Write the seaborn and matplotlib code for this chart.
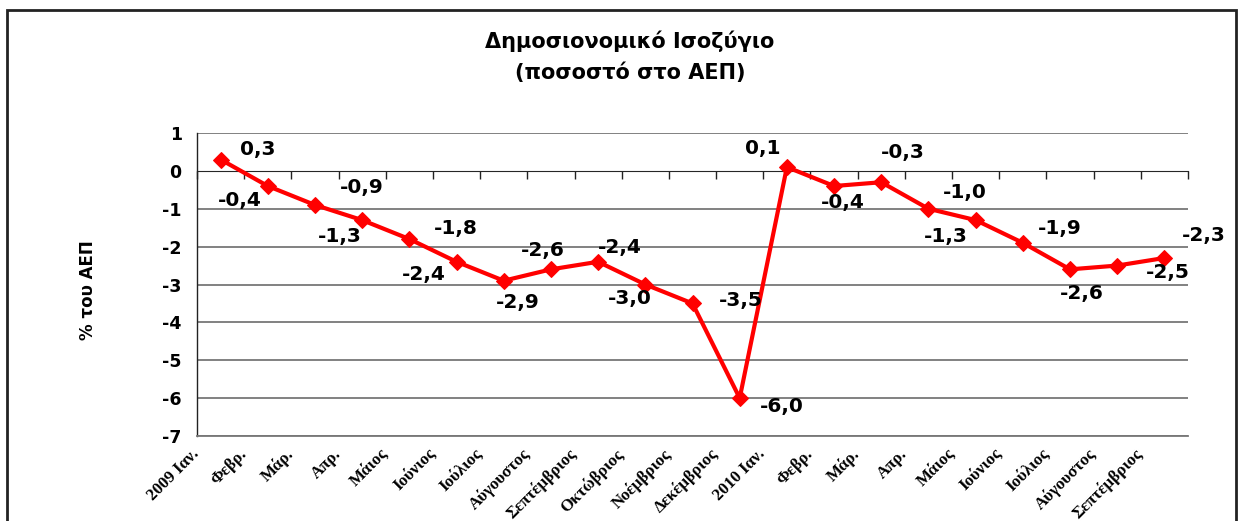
import numpy as np
import pandas as pd
import matplotlib
matplotlib.use('Agg')
import matplotlib.pyplot as plt
import matplotlib.transforms as mtransforms
from matplotlib.patches import Rectangle
import seaborn as sns

months = ['2009 Ιαν.', 'Φεβρ.', 'Μάρ.', 'Απρ.', 'Μάιος', 'Ιούνιος', 'Ιούλιος',
          'Αύγουστος', 'Σεπτέμβριος', 'Οκτώβριος', 'Νοέμβριος', 'Δεκέμβριος',
          '2010 Ιαν.', 'Φεβρ.', 'Μάρ.', 'Απρ.', 'Μάιος', 'Ιούνιος', 'Ιούλιος',
          'Αύγουστος', 'Σεπτέμβριος']
balance = [0.3, -0.4, -0.9, -1.3, -1.8, -2.4, -2.9, -2.6, -2.4, -3.0, -3.5, -6.0,
           0.1, -0.4, -0.3, -1.0, -1.3, -1.9, -2.6, -2.5, -2.3]

# label offsets in pixels (dx, dy) from each point
label_off = [(37, 10), (-28, -14), (47, 17), (-22, -16), (46, 11), (-33, -13),
             (14, -22), (-8, 19), (22, 14), (-15, -14), (48, 3), (42, -8),
             (-24, 19), (9, -16), (22, 30), (36, 16), (-30, -16), (37, 14),
             (12, -24), (51, -7), (39, 22)]

df = pd.DataFrame({'idx': np.arange(len(months)), 'value': balance})

sns.set_style('white')
plt.rcParams['font.family'] = ['DejaVu Sans']
plt.rcParams['axes.unicode_minus'] = False
plt.rcParams['text.color'] = 'black'
plt.rcParams['xtick.color'] = 'black'
plt.rcParams['ytick.color'] = 'black'

fig = plt.figure(figsize=(12.41, 5.21), dpi=100)
ax = fig.add_axes([197 / 1241, 1 - 436 / 521, (1188 - 197) / 1241, (436 - 133) / 521])

# outer frame
fig.patches.append(Rectangle((7 / 1241, -0.1), (1236 - 7) / 1241, 1.1 - 10 / 521,
                             transform=fig.transFigure, fill=False,
                             edgecolor='#222222', linewidth=2))

for yv in range(-7, 2):
    if yv != 0:
        ax.axhline(yv, color='#777777', linewidth=1.3, zorder=0)

sns.lineplot(data=df, x='idx', y='value', ax=ax, color='#ff0000', linewidth=3,
             marker='D', markersize=8, markeredgecolor='#ff0000', zorder=3)

for i, v in enumerate(balance):
    dx, dy = label_off[i]
    ax.annotate(f'{v:.1f}'.replace('.', ','), (i, v), xytext=(dx, dy),
                textcoords='offset pixels', ha='center', va='center',
                fontsize=14.5, fontweight='bold', color='black')

ax.set_xlim(-0.5, len(months) - 0.5)
ax.set_ylim(-7, 1)
ax.set_yticks(range(-7, 2))
ax.set_yticklabels([str(t) for t in range(-7, 2)], fontsize=12.5, fontweight='bold')
ax.tick_params(axis='y', direction='out', length=7, width=1, color='#444444', pad=4)

ax.set_xticks(range(len(months)))
ax.set_xticklabels(months, rotation=45, ha='right', va='top',
                   family='Liberation Serif', fontweight='bold', fontsize=12.2)
ax.tick_params(axis='x', length=0, pad=7)
offset = mtransforms.ScaledTranslation(-18 / 100, 0, fig.dpi_scale_trans)
for lbl in ax.get_xticklabels():
    lbl.set_transform(lbl.get_transform() + offset)

for s in ['top', 'right']:
    ax.spines[s].set_visible(False)
ax.spines['bottom'].set_color('#777777')
ax.spines['bottom'].set_linewidth(1.3)
ax.spines['left'].set_color('#222222')
ax.spines['left'].set_linewidth(1)

# category axis crossing at zero
sec = ax.secondary_xaxis(7 / 8)
sec.set_xticks(np.arange(-0.5, len(months)))
sec.set_xticklabels([])
sec.tick_params(direction='out', length=6, width=1, color='#222222')
sec.spines['bottom'].set_color('#111111')
sec.spines['bottom'].set_linewidth(1.3)
sec.xaxis.set_ticks_position('bottom')

ax.set_xlabel('')
ax.set_ylabel('')
fig.text(88 / 1241, 1 - 290 / 521, '% του ΑΕΠ', rotation=90, ha='center',
         va='center', fontsize=12, fontweight='bold')
fig.text(630 / 1241, 1 - 41 / 521, 'Δημοσιονομικό Ισοζύγιο', ha='center',
         va='center', fontsize=15, fontweight='bold')
fig.text(630 / 1241, 1 - 73 / 521, '(ποσοστό στο ΑΕΠ)', ha='center',
         va='center', fontsize=15, fontweight='bold')

fig.savefig('out.png', dpi=100)
